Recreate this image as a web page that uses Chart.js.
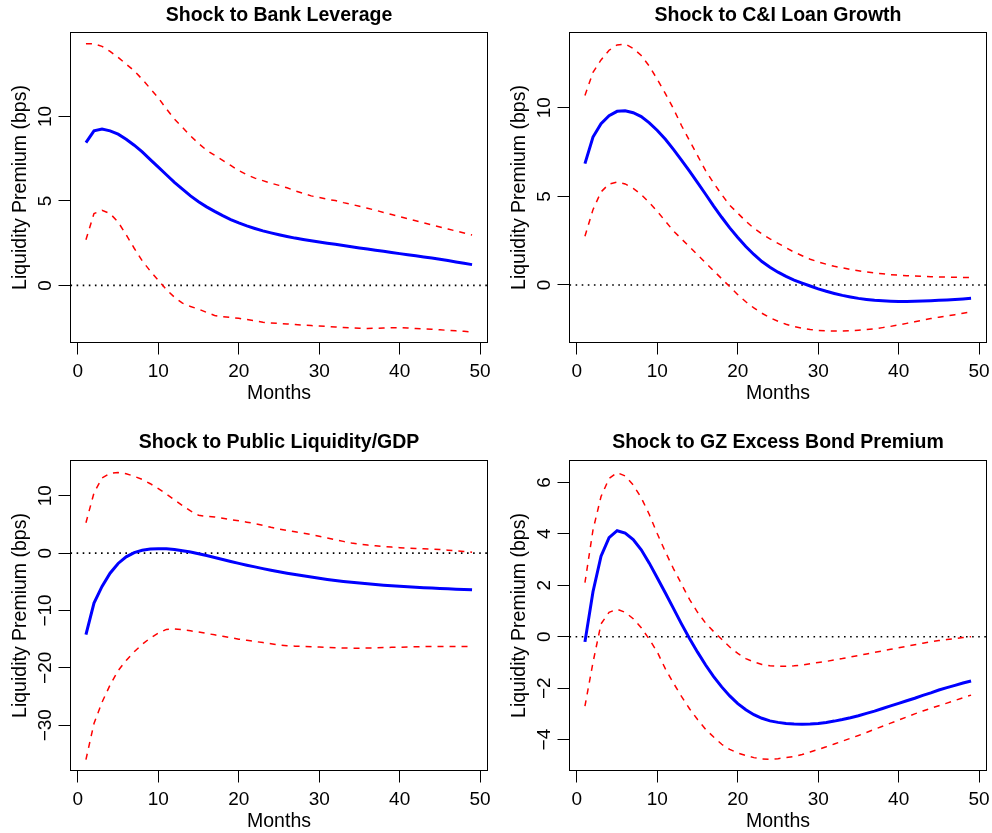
<!DOCTYPE html>
<html lang="en">
<head>
  <meta charset="UTF-8">
  <title>Liquidity Premium IRF</title>
  <style>
    html, body { margin: 0; padding: 0; background: #fff; overflow: hidden; }
    .wrap { position: relative; width: 992px; height: 833px; }
    .panel { position: absolute; width: 496px; height: 416px; }
  </style>
</head>
<body>
<div class="wrap">
  <div class="panel" style="left:0px; top:0px"><canvas id="chart1" width="496" height="416"></canvas></div>
  <div class="panel" style="left:499px; top:0px"><canvas id="chart2" width="496" height="416"></canvas></div>
  <div class="panel" style="left:0px; top:428px"><canvas id="chart3" width="496" height="416"></canvas></div>
  <div class="panel" style="left:499px; top:428px"><canvas id="chart4" width="496" height="416"></canvas></div>
</div>

<script src="https://cdn.jsdelivr.net/npm/chart.js"></script>
<script>
  // horizon (months)
  const months = [1,2,3,4,5,6,7,8,9,10,11,12,13,14,15,16,17,18,19,20,21,22,23,24,25,
    26,27,28,29,30,31,32,33,34,35,36,37,38,39,40,41,42,43,44,45,46,47,48,49];
  const xTicks = [0, 10, 20, 30, 40, 50];

  // Shock to Bank Leverage
  const levMid = [8.45,9.15,9.25,9.15,8.95,8.65,8.3,7.9,7.45,7.0,6.55,6.1,5.7,5.3,4.95,4.65,4.38,4.13,3.9,3.7,
    3.52,3.37,3.23,3.11,3.0,2.9,2.8,2.72,2.64,2.57,2.5,2.43,2.36,2.29,2.22,2.15,2.08,2.02,1.95,1.88,
    1.81,1.75,1.68,1.62,1.55,1.47,1.39,1.31,1.23];
  const levHi = [14.3,14.3,14.15,13.85,13.5,13.1,12.7,12.2,11.65,11.1,10.45,9.85,9.35,8.85,8.4,8.0,7.7,7.4,7.1,6.8,
    6.55,6.35,6.2,6.05,5.92,5.78,5.6,5.45,5.3,5.2,5.1,5.02,4.9,4.8,4.68,4.57,4.45,4.32,4.2,4.07,
    3.95,3.83,3.7,3.58,3.46,3.34,3.22,3.1,2.98];
  const levLo = [2.7,4.25,4.45,4.25,3.75,3.0,2.2,1.45,0.85,0.3,-0.25,-0.7,-1.05,-1.25,-1.4,-1.6,-1.78,-1.86,-1.9,-1.95,
    -2.02,-2.1,-2.18,-2.22,-2.25,-2.28,-2.32,-2.35,-2.38,-2.4,-2.43,-2.46,-2.49,-2.52,-2.54,-2.55,-2.54,-2.52,-2.5,-2.5,
    -2.52,-2.55,-2.58,-2.6,-2.63,-2.66,-2.69,-2.72,-2.75];
  const levYTicks = [0, 5, 10];

  // Shock to C&I Loan Growth
  const loanMid = [6.85,8.35,9.1,9.55,9.8,9.83,9.72,9.5,9.15,8.72,8.22,7.65,7.05,6.42,5.78,5.12,4.45,3.82,3.22,2.68,
    2.17,1.72,1.32,1.0,0.72,0.48,0.27,0.1,-0.06,-0.22,-0.36,-0.48,-0.59,-0.68,-0.76,-0.82,-0.87,-0.9,-0.92,-0.93,
    -0.93,-0.92,-0.91,-0.89,-0.87,-0.85,-0.82,-0.79,-0.75];
  const loanHi = [10.7,12.0,12.7,13.25,13.55,13.6,13.35,12.95,12.35,11.6,10.8,9.95,9.0,8.15,7.3,6.45,5.75,5.1,4.5,4.05,
    3.6,3.2,2.88,2.6,2.35,2.1,1.85,1.65,1.45,1.3,1.17,1.05,0.97,0.88,0.8,0.73,0.68,0.63,0.58,0.55,
    0.52,0.5,0.48,0.46,0.45,0.44,0.43,0.42,0.41];
  const loanLo = [2.75,4.25,5.25,5.7,5.8,5.7,5.45,5.1,4.65,4.15,3.6,3.05,2.6,2.15,1.7,1.25,0.8,0.35,-0.1,-0.55,
    -0.95,-1.3,-1.6,-1.85,-2.05,-2.22,-2.35,-2.45,-2.52,-2.57,-2.59,-2.6,-2.6,-2.59,-2.56,-2.52,-2.47,-2.41,-2.34,-2.26,
    -2.17,-2.08,-1.99,-1.9,-1.82,-1.75,-1.68,-1.6,-1.53];
  const loanYTicks = [0, 5, 10];

  // Shock to Public Liquidity/GDP
  const pubMid = [-14.2,-8.7,-5.8,-3.5,-1.8,-0.65,0.1,0.5,0.7,0.78,0.75,0.62,0.42,0.18,-0.1,-0.42,-0.75,-1.1,-1.45,-1.78,
    -2.1,-2.4,-2.7,-2.98,-3.25,-3.5,-3.73,-3.95,-4.17,-4.38,-4.58,-4.76,-4.93,-5.08,-5.22,-5.35,-5.47,-5.58,-5.68,-5.78,
    -5.87,-5.95,-6.03,-6.1,-6.17,-6.23,-6.28,-6.33,-6.37];
  const pubHi = [5.3,10.5,13.1,13.9,14.05,13.85,13.4,12.85,12.1,11.25,10.3,9.3,8.3,7.35,6.6,6.4,6.3,6.1,5.85,5.65,
    5.4,5.15,4.85,4.5,4.2,3.95,3.72,3.5,3.25,2.95,2.65,2.35,2.05,1.78,1.55,1.4,1.28,1.15,1.05,0.95,
    0.88,0.82,0.76,0.7,0.62,0.52,0.4,0.28,0.15];
  const pubLo = [-36,-29.7,-26.0,-23.0,-20.5,-18.7,-17.2,-15.9,-14.8,-13.95,-13.3,-13.2,-13.35,-13.55,-13.75,-14.0,-14.25,-14.5,-14.75,-15.0,
    -15.2,-15.4,-15.6,-15.8,-16.0,-16.15,-16.22,-16.27,-16.32,-16.38,-16.44,-16.5,-16.55,-16.57,-16.57,-16.56,-16.52,-16.47,-16.43,-16.4,
    -16.37,-16.33,-16.3,-16.28,-16.27,-16.27,-16.27,-16.27,-16.27];
  const pubYTicks = [-30, -20, -10, 0, 10];

  // Shock to GZ Excess Bond Premium
  const gzMid = [-0.2,1.75,3.13,3.85,4.12,4.03,3.78,3.38,2.86,2.28,1.7,1.1,0.5,-0.07,-0.6,-1.1,-1.55,-1.95,-2.3,-2.6,
    -2.84,-3.03,-3.17,-3.27,-3.33,-3.37,-3.39,-3.4,-3.39,-3.37,-3.33,-3.28,-3.22,-3.15,-3.07,-2.98,-2.89,-2.79,-2.69,-2.59,
    -2.49,-2.39,-2.28,-2.18,-2.07,-1.98,-1.89,-1.8,-1.72];
  const gzHi = [2.1,4.15,5.45,6.15,6.38,6.25,5.9,5.4,4.75,4.0,3.3,2.65,2.05,1.45,0.95,0.53,0.2,-0.1,-0.4,-0.65,
    -0.85,-0.98,-1.08,-1.13,-1.15,-1.15,-1.13,-1.1,-1.05,-1.0,-0.96,-0.9,-0.85,-0.79,-0.73,-0.67,-0.61,-0.55,-0.49,-0.43,
    -0.37,-0.31,-0.25,-0.2,-0.15,-0.11,-0.07,-0.03,0.0];
  const gzLo = [-2.7,-1.0,0.5,0.95,1.07,0.95,0.7,0.35,-0.1,-0.6,-1.25,-1.8,-2.32,-2.8,-3.22,-3.6,-3.9,-4.18,-4.38,-4.52,
    -4.62,-4.7,-4.75,-4.76,-4.74,-4.7,-4.66,-4.58,-4.48,-4.38,-4.28,-4.17,-4.06,-3.95,-3.84,-3.72,-3.6,-3.48,-3.36,-3.24,
    -3.12,-3.0,-2.89,-2.78,-2.68,-2.58,-2.48,-2.37,-2.27];
  const gzYTicks = [-4, -2, 0, 2, 4, 6];

  const FONT = "'Liberation Sans', Arial, Helvetica, sans-serif";
  const xMin = -0.92, xMax = 50.92;

  function toPoints(vals) {
    return vals.map((v, i) => ({x: months[i], y: v}));
  }

  // R style box, title over the plot region, rotated y tick labels
  const rAxesPlugin = {
    id: 'rAxes',
    afterDraw(chart, args, opts) {
      const c = chart.ctx;
      const a = chart.chartArea;
      c.save();
      c.strokeStyle = '#000';
      c.lineWidth = 1;
      c.strokeRect(a.left, a.top, a.right - a.left, a.bottom - a.top);

      c.fillStyle = '#000';
      c.font = 'bold 19.5px ' + FONT;
      c.textAlign = 'center';
      c.textBaseline = 'middle';
      c.fillText(opts.title, (a.left + a.right) / 2, opts.titleY);

      const ys = chart.scales.y;
      c.font = '19px ' + FONT;
      c.textBaseline = 'alphabetic';
      ys.ticks.forEach(t => {
        const py = ys.getPixelForValue(t.value);
        c.save();
        c.translate(51, py);
        c.rotate(-Math.PI / 2);
        c.fillText(String(t.value).replace('-', '\u2212'), 0, 0);
        c.restore();
      });
      c.restore();
    }
  };

  function makePanel(id, title, mid, hi, lo, yMin, yMax, yTicks, titleY) {
    const ctx = document.getElementById(id);
    return new Chart(ctx, {
      type: 'line',
      data: {
        datasets: [
          {data: toPoints(mid), borderColor: '#0000ff', borderWidth: 3, pointRadius: 0, tension: 0},
          {data: toPoints(hi), borderColor: '#ff0000', borderWidth: 1.5, borderDash: [6, 6], pointRadius: 0, tension: 0},
          {data: toPoints(lo), borderColor: '#ff0000', borderWidth: 1.5, borderDash: [6, 6], pointRadius: 0, tension: 0},
          // abline(h = 0, lty = 3)
          {data: [{x: xMin, y: 0}, {x: xMax, y: 0}], borderColor: '#000', borderWidth: 1.6, borderDash: [1.6, 4.5], pointRadius: 0}
        ]
      },
      options: {
        responsive: false,
        animation: false,
        events: [],
        layout: {padding: {left: 0, right: 8.5, top: 32.5, bottom: 0}},
        plugins: {
          legend: {display: false},
          tooltip: {enabled: false},
          title: {display: false},
          rAxes: {title: title, titleY: titleY}
        },
        scales: {
          x: {
            type: 'linear',
            min: xMin,
            max: xMax,
            afterBuildTicks: s => { s.ticks = xTicks.map(v => ({value: v})); },
            afterFit: s => { s.height = 73.5; s.paddingLeft = 0; s.paddingRight = 0; },
            grid: {drawOnChartArea: false, drawTicks: true, tickLength: 12, color: '#000'},
            border: {display: true, color: '#000'},
            ticks: {color: '#000', font: {family: FONT, size: 19}, padding: 5.5, maxRotation: 0, autoSkip: false},
            title: {display: true, text: 'Months', color: '#000', font: {family: FONT, size: 19.5}, padding: {top: 0, bottom: 10.5}}
          },
          y: {
            type: 'linear',
            min: yMin,
            max: yMax,
            afterBuildTicks: s => { s.ticks = yTicks.map(v => ({value: v})); },
            afterFit: s => { s.width = 70.5; s.paddingTop = 0; s.paddingBottom = 0; },
            grid: {drawOnChartArea: false, drawTicks: true, tickLength: 12, color: '#000'},
            border: {display: true, color: '#000'},
            ticks: {display: false},
            title: {display: true, text: 'Liquidity Premium (bps)', color: '#000', font: {family: FONT, size: 19.5}, padding: {top: 9.2, bottom: 0}}
          }
        }
      },
      plugins: [rAxesPlugin]
    });
  }

  makePanel('chart1', 'Shock to Bank Leverage', levMid, levHi, levLo, -3.38, 14.97, levYTicks, 16.1);
  makePanel('chart2', 'Shock to C&I Loan Growth', loanMid, loanHi, loanLo, -3.25, 14.25, loanYTicks, 16.1);
  makePanel('chart3', 'Shock to Public Liquidity/GDP', pubMid, pubHi, pubLo, -37.9, 16.15, pubYTicks, 14.7);
  makePanel('chart4', 'Shock to GZ Excess Bond Premium', gzMid, gzHi, gzLo, -5.2, 6.85, gzYTicks, 14.7);
</script>
</body>
</html>
